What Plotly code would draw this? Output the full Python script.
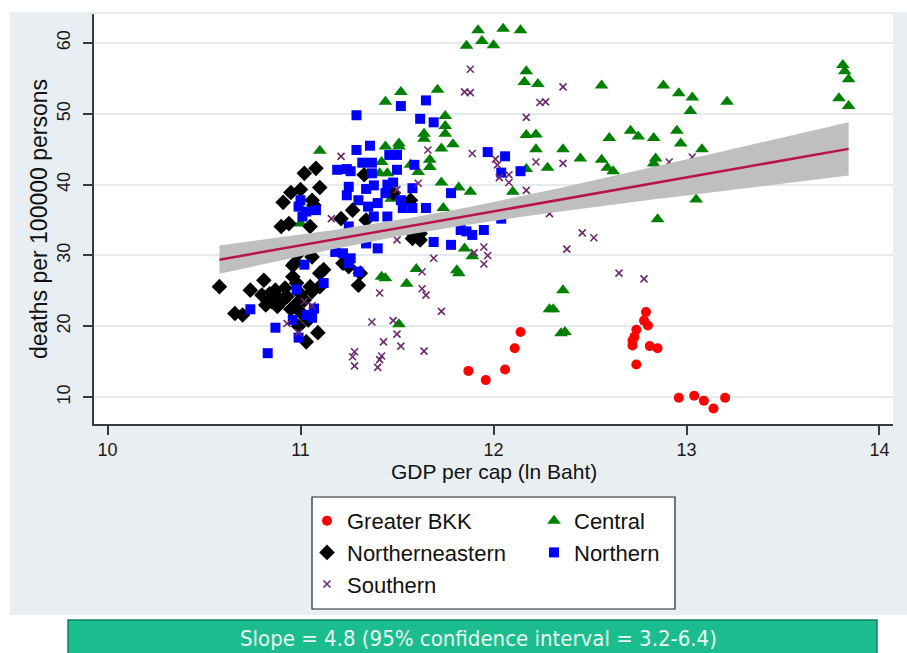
import numpy as np
import plotly.graph_objects as go

# ---- data: GDP per capita (ln Baht) vs deaths per 100000 persons, by region ----
bkk_x = [11.87, 11.96, 12.06, 12.11, 12.14, 12.72, 12.72, 12.73, 12.74, 12.74,
         12.78, 12.79, 12.80, 12.81, 12.85, 12.96, 13.04, 13.09, 13.14, 13.20]
bkk_y = [13.7, 12.4, 13.9, 16.9, 19.2, 17.3, 18.0, 18.5, 19.5, 14.6,
         20.8, 22.0, 20.1, 17.2, 16.9, 9.9, 10.2, 9.5, 8.4, 9.9]

central_x = [11.92, 12.05, 12.14, 11.86, 11.94, 12.00, 12.17, 12.16, 12.23, 12.56,
             12.88, 12.96, 13.03, 13.02, 13.21, 13.81, 13.82, 13.84, 13.79, 13.84,
             11.75, 11.75, 11.75, 11.73, 11.79, 12.17, 12.22, 12.22, 12.36, 12.28,
             12.45, 12.56, 12.59, 12.62, 12.60, 12.71, 12.75, 12.83, 12.95, 12.97,
             13.08, 12.84, 12.83, 12.17, 13.05, 12.85, 11.82, 11.88, 12.10, 11.73,
             11.74, 11.85, 11.89, 11.81, 11.82, 12.36, 12.29, 12.31, 12.35, 12.37,
             11.44, 11.52, 11.71, 11.64, 11.64, 11.10, 11.44, 11.51, 11.42, 11.41,
             11.45, 11.57, 11.61, 11.67, 11.67, 11.47, 11.60, 11.42, 11.44, 11.55,
             11.51, 11.00, 11.51]
central_y = [61.8, 62.0, 61.8, 59.6, 60.3, 59.7, 56.0, 54.5, 54.2, 54.0,
             54.0, 52.9, 52.3, 50.4, 51.7, 56.9, 56.0, 54.9, 52.2, 51.1,
             49.7, 48.3, 47.2, 45.1, 45.7, 47.0, 47.1, 45.0, 45.0, 42.4,
             43.7, 43.5, 42.4, 41.9, 46.6, 47.6, 46.8, 46.6, 47.6, 45.8,
             45.0, 43.7, 43.0, 42.2, 37.9, 35.1, 39.6, 39.0, 39.0, 40.3,
             36.7, 31.0, 29.9, 27.9, 27.5, 25.1, 22.4, 22.4, 19.0, 19.2,
             51.7, 53.1, 53.4, 47.2, 46.5, 44.8, 45.4, 45.4, 43.2, 41.6,
             41.6, 42.8, 41.8, 42.5, 43.5, 38.0, 28.1, 27.0, 26.8, 26.0,
             20.3, 34.5, 45.8]

ne_x = [11.02, 10.95, 11.00, 10.91, 10.90, 10.94, 10.96, 10.81, 10.58, 10.74,
        10.80, 10.84, 10.87, 10.85, 10.89, 10.93, 10.66, 10.70, 10.96, 10.98,
        11.08, 11.10, 11.06, 11.07, 11.27, 11.21, 11.33, 11.58, 11.62, 11.05,
        11.48, 11.57, 11.34, 10.91, 10.98, 11.00, 11.05, 11.06, 11.10, 10.97,
        10.99, 11.06, 11.10, 11.12, 11.02, 10.99, 11.04, 11.09, 11.03, 11.30,
        11.25, 11.22, 11.31, 11.59, 11.62, 11.58, 10.88, 10.95, 10.92, 11.00,
        10.82]
ne_y = [41.6, 38.9, 39.3, 37.5, 34.1, 34.5, 28.6, 26.5, 25.6, 25.1,
        24.4, 24.6, 25.1, 23.5, 23.9, 24.2, 21.8, 21.6, 27.0, 26.1,
        42.3, 39.6, 37.8, 37.1, 36.4, 35.2, 41.4, 33.6, 33.1, 34.1,
        38.8, 37.8, 35.0, 23.7, 23.2, 24.6, 25.6, 24.9, 25.6, 28.9,
        30.3, 29.8, 27.5, 28.0, 23.7, 20.0, 20.9, 19.1, 17.8, 25.8,
        28.4, 28.9, 27.5, 32.9, 32.2, 32.4, 22.8, 22.4, 25.4, 22.0,
        23.0]

north_x = [11.29, 11.52, 11.65, 11.62, 11.69, 11.29, 11.36, 11.32, 11.37, 11.37,
           11.19, 11.24, 11.26, 11.46, 11.50, 11.59, 11.50, 11.25, 11.24, 11.30,
           11.34, 11.38, 11.35, 11.45, 11.48, 11.44, 11.40, 11.52, 11.53, 11.58,
           11.58, 11.65, 11.38, 11.45, 11.78, 11.00, 11.08, 11.01, 10.99, 11.97,
           12.06, 12.04, 12.14, 12.04, 11.83, 11.89, 11.95, 11.86, 11.69, 11.78,
           11.02, 11.12, 10.74, 10.87, 10.83, 10.98, 10.96, 10.99, 11.03, 11.07,
           11.06, 11.18, 11.22, 11.26, 11.25, 11.30, 11.34, 11.40, 11.03, 11.36,
           11.25, 11.34]
north_y = [49.8, 51.1, 51.9, 49.3, 48.8, 44.9, 45.5, 43.1, 43.1, 41.6,
           42.1, 42.2, 41.9, 44.2, 44.2, 42.8, 42.1, 39.7, 38.5, 37.8,
           39.4, 39.9, 36.9, 40.0, 40.3, 38.8, 37.4, 37.8, 36.7, 39.5,
           36.7, 36.7, 35.5, 35.5, 38.8, 37.8, 36.4, 35.5, 36.9, 44.6,
           44.0, 41.7, 41.9, 35.2, 33.6, 32.9, 33.6, 33.4, 31.9, 31.5,
           28.7, 26.1, 22.4, 19.8, 16.2, 25.2, 20.9, 18.4, 21.6, 22.5,
           21.2, 30.5, 30.3, 29.6, 28.9, 27.7, 32.0, 31.0, 36.2, 33.1,
           34.1, 31.7]

south_x = [11.88, 11.85, 11.88, 12.36, 12.24, 12.27, 12.17, 11.89, 12.01, 12.02,
           12.08, 12.03, 12.08, 12.22, 12.36, 12.17, 12.29, 12.46, 12.52, 12.91,
           13.03, 12.38, 11.95, 11.97, 11.90, 11.95, 12.65, 12.78, 11.73, 11.66,
           11.69, 11.61, 11.63, 11.41, 11.63, 11.65, 11.37, 11.48, 11.50, 11.43,
           11.52, 11.64, 11.28, 11.27, 11.28, 11.42, 11.41, 11.40, 10.93, 11.02,
           11.21, 11.16, 11.50, 11.50, 10.99, 11.06]
south_y = [56.3, 53.1, 53.0, 53.8, 51.6, 51.7, 49.5, 44.4, 43.6, 42.8,
           41.4, 41.0, 40.3, 43.2, 43.0, 39.2, 35.9, 33.2, 32.5, 43.2,
           43.9, 30.9, 31.2, 30.0, 30.4, 28.8, 27.5, 26.7, 22.1, 44.9,
           29.6, 40.2, 27.7, 24.7, 25.3, 24.4, 20.6, 20.8, 18.9, 17.8,
           17.2, 16.5, 16.4, 15.7, 14.4, 15.8, 15.3, 14.2, 20.4, 23.5,
           44.0, 35.2, 39.3, 32.2, 19.1, 22.9]

# linear fit: slope with its 95% CI, fitted value and CI half-width at the mean of x
slope = 4.8
slope_ci = (3.2, 6.4)
x_mean = 11.6
y_at_mean = 34.3
ci_half_at_mean = 1.16

x_ticks = [10, 11, 12, 13, 14]
y_ticks = [10, 20, 30, 40, 50, 60]

# ---- figure geometry (pixels) ----
W, H = 907, 653
L, R, T, B = 94, 14, 14, 229
PW, PH = W - L - R, H - T - B


def px(xp):
    return (xp - L) / PW


def py(yp):
    return (H - B - yp) / PH


fig = go.Figure()

series = [
    ("Greater BKK", bkk_x, bkk_y, "circle", "#ff0000", 10, "legend"),
    ("Central", central_x, central_y, "triangle-up", "#008000", 12, "legend2"),
    ("Northerneastern", ne_x, ne_y, "diamond", "#000000", 12, "legend"),
    ("Northern", north_x, north_y, "square", "#0000ff", 10, "legend2"),
]
for name, xs, ys, sym, col, size, lg in series:
    fig.add_trace(go.Scatter(
        x=xs, y=ys, mode="markers", name=name, legend=lg,
        marker=dict(symbol=sym, color=col, size=size, line=dict(width=0)),
    ))

fig.add_trace(go.Scatter(
    x=south_x, y=south_y, mode="markers", name="Southern", legend="legend",
    marker=dict(symbol="x-thin", color="#6b2a6b", size=7,
                line=dict(width=1.6, color="#6b2a6b")),
))

# fitted line and confidence band over the observed x range
all_x = bkk_x + central_x + ne_x + north_x + south_x
fx = np.linspace(min(all_x), max(all_x), 120)
fy = y_at_mean + slope * (fx - x_mean)
slope_half = (slope_ci[1] - slope_ci[0]) / 2
half = np.sqrt(ci_half_at_mean ** 2 + (slope_half * (fx - x_mean)) ** 2)

fig.add_trace(go.Scatter(x=fx, y=fy - half, mode="lines", line=dict(width=0),
                         showlegend=False, hoverinfo="skip"))
fig.add_trace(go.Scatter(x=fx, y=fy + half, mode="lines", line=dict(width=0),
                         fill="tonexty", fillcolor="#bfbfbf",
                         showlegend=False, hoverinfo="skip"))
fig.add_trace(go.Scatter(x=fx, y=fy, mode="lines",
                         line=dict(color="#b8134a", width=2.5),
                         showlegend=False, hoverinfo="skip"))

bg = "#e8eef1"
shapes = [
    # white outer strips
    dict(type="rect", xref="paper", yref="paper", x0=px(0), x1=px(W), y0=py(0), y1=py(12),
         fillcolor="white", line=dict(width=0), layer="below"),
    dict(type="rect", xref="paper", yref="paper", x0=px(0), x1=px(10), y0=py(H), y1=py(0),
         fillcolor="white", line=dict(width=0), layer="below"),
    dict(type="rect", xref="paper", yref="paper", x0=px(0), x1=px(W), y0=py(H), y1=py(615),
         fillcolor="white", line=dict(width=0), layer="below"),
    # legend frame
    dict(type="rect", xref="paper", yref="paper", x0=px(312), x1=px(675), y0=py(609), y1=py(497),
         fillcolor="white", line=dict(color="#222222", width=1.2), layer="below"),
    # slope box
    dict(type="rect", xref="paper", yref="paper", x0=px(68), x1=px(877), y0=py(662), y1=py(620),
         fillcolor="#1bbd8f", line=dict(color="#0e8563", width=1.5), layer="below"),
]

font_family = "Liberation Sans, Arial, sans-serif"
axis_font = dict(family=font_family, size=18, color="#1a1a1a")
legend_common = dict(xanchor="left", yanchor="top", traceorder="normal",
                     bgcolor="rgba(0,0,0,0)", borderwidth=0, tracegroupgap=0,
                     font=dict(size=22, color="#111111"))

fig.update_layout(
    width=W, height=H,
    margin=dict(l=L, r=R, t=T, b=B, autoexpand=False),
    paper_bgcolor=bg, plot_bgcolor="white",
    shapes=shapes,
    font=dict(family=font_family, color="#111111"),
    xaxis=dict(
        range=[9.93, 14.07], tickvals=x_ticks, ticks="outside", ticklen=9, tickwidth=1.5,
        tickcolor="#3a3a3a", showline=True, linecolor="#3a3a3a", linewidth=1.5,
        showgrid=False, zeroline=False, tickfont=axis_font, ticklabelstandoff=0,
    ),
    yaxis=dict(
        range=[6.2, 64.1], tickvals=y_ticks, ticks="outside", ticklen=9, tickwidth=1.5,
        tickcolor="#3a3a3a", showline=True, linecolor="#3a3a3a", linewidth=1.5,
        showgrid=True, gridcolor="#e3ebee", gridwidth=1.5, zeroline=False,
        tickangle=-90, tickfont=axis_font, ticklabelstandoff=6,
        title=dict(text="deaths per 100000 persons", standoff=0,
                   font=dict(family=font_family, size=23, color="#111111")),
    ),
    legend=dict(x=px(307), y=py(500), **legend_common),
    legend2=dict(x=px(534), y=py(500), **legend_common),
    annotations=[
        dict(xref="paper", yref="paper", x=0.5, y=py(471), xanchor="center", yanchor="middle",
             text="GDP per cap (ln Baht)", showarrow=False,
             font=dict(family=font_family, size=21, color="#111111")),
        dict(xref="paper", yref="paper", x=px(478), y=py(638), xanchor="center", yanchor="middle",
             text=f"Slope = {slope} (95% confidence interval = {slope_ci[0]}-{slope_ci[1]})",
             showarrow=False,
             font=dict(family="Liberation Sans Narrow, DejaVu Sans Condensed, Arial, sans-serif",
                       size=22, color="#e9f7f0")),
    ],
)

fig.write_html("out.html")
